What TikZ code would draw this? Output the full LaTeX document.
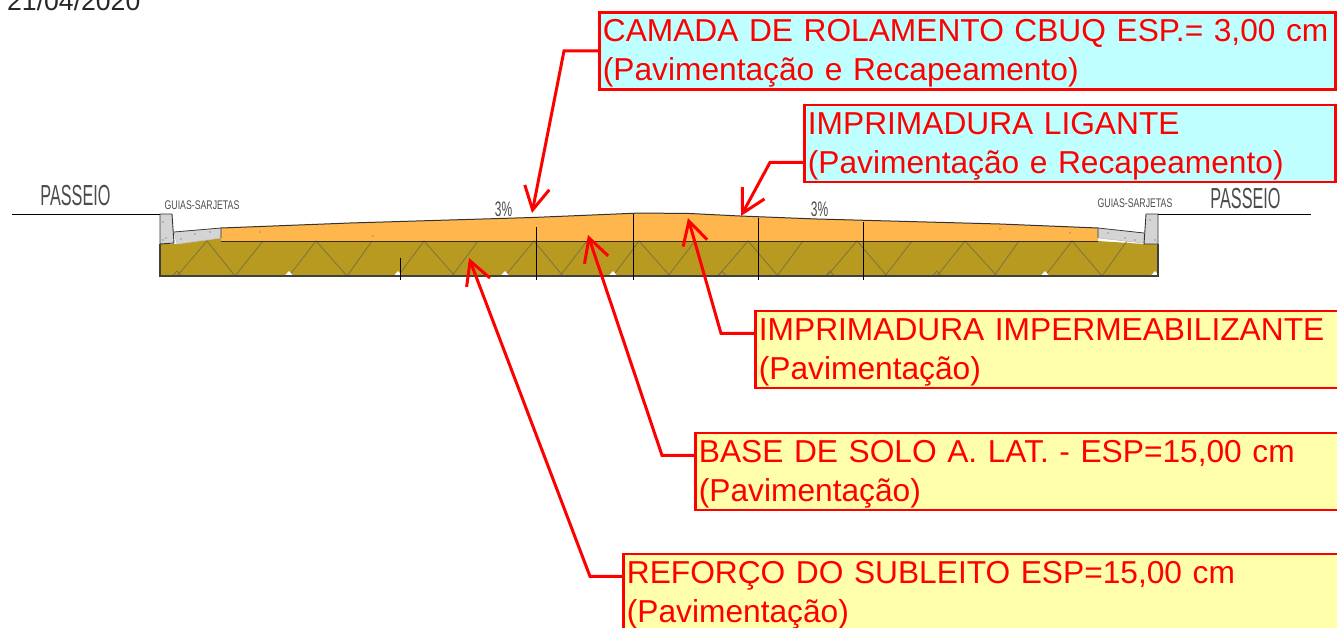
\documentclass[tikz,border=0pt]{standalone}
\usepackage{fontspec}
\setmainfont{Liberation Sans}
\usetikzlibrary{calc,arrows.meta}
\definecolor{azul}{HTML}{BFFFFF}
\definecolor{amarelo}{HTML}{FFFFAA}
\definecolor{laranja}{HTML}{FFB74D}
\definecolor{solo}{HTML}{B89A20}
\definecolor{trama}{HTML}{7A7440}
\definecolor{concreto}{HTML}{D4D4D4}
\tikzset{
	caixa/.style={rectangle,draw=red,line width=2.8pt,anchor=north west,inner xsep=3.5pt,inner ysep=0pt,text=red,text width=#1,align=left,minimum height=77pt,font=\fontsize{31.7}{38.7}\selectfont,execute at begin node={\rule{0pt}{27.5pt}}},
	azulbox/.style={caixa=#1,fill=azul},
	amarelobox/.style={caixa=729pt,fill=amarelo},
	seta/.style={draw=red,line width=3pt,-{Straight Barb[length=23pt,width=25pt]}},
	cad/.style={text=black!70,inner sep=0pt,font=\fontsize{#1}{#1}\selectfont},
	trama fina/.style={draw=trama,line width=.8pt},
	corte/.style={draw=black,line width=.9pt}
}
\begin{document}
\begin{tikzpicture}[x=1pt,y=-1pt]
	\path[use as bounding box,clip] (0,0) rectangle (1337,627);
	% camadas
	\fill[solo] (160,244)--(177,244)--(221,238)--(221,241)--(1098,241)--(1144,244)--(1158,244)--(1158,276)--(160,276)--cycle;
	\fill[laranja] (221,228)--(350,223)--(532,217.5)--(640,213)--(690,213.5)--(740,216)--(817,219)--(1000,224)--(1098,228)--(1098,241)--(221,241)--cycle;
	\draw[black!80,line width=1pt] (221,228)--(350,223)--(532,217.5)--(640,213)--(690,213.5)--(740,216)--(817,219)--(1000,224)--(1098,228);
	% trama da base
	\foreach \xa/\xb/\xc in {177/207/235,289/316/347,398/424/455,505/534/563,613/639/670,718/748/778,827/857/887,937/965/997,1045/1072/1102}
		\draw[trama fina] (\xa,276)--(\xb,241)--(\xc,276);
	\foreach \xa/\xb in {235/263,347/372,452/478,560/587,668/695,777/803,885/912,994/1019,1102/1127}
		\draw[trama fina] (\xa,276)--(\xb,241);
	\foreach \xa in {289,398,505,613,1045,1155}
		\fill[white] (\xa-4,275.5)--(\xa,271)--(\xa+4,275.5)--cycle;
	\foreach \xa in {177,722,830,937}
		\draw[trama fina] (\xa-4,275.5)--(\xa,271)--(\xa+4,275.5);
	\draw[black!70!solo,line width=1pt] (221,241)--(1098,241);
	\draw[black!75,line width=1.2pt] (160,244)--(160,276)--(1158,276)--(1158,244);
	\foreach \xa/\ya in {400/258,536/227,633/214,758/218,863/222}
		\draw[corte] (\xa,\ya)--(\xa,280);
	% guias e sarjetas
	\draw[concreto!90!black,fill=concreto,line width=.6pt] (174,232)--(221,228)--(221,238)--(177,244)--cycle;
	\draw[concreto!90!black,fill=concreto,line width=.6pt] (1098,228)--(1144,233)--(1144,243)--(1098,238)--cycle;
	\draw[black!80,line width=.9pt,fill=concreto] (160,214)--(172,214)--(174,243)--(160,244)--cycle;
	\draw[black!80,line width=.9pt,fill=concreto] (1146,214)--(1158,214)--(1158,244)--(1144,244)--cycle;
	\draw[black!80,line width=.7pt] (174,232)--(221,228)--(221,238);
	\draw[black!80,line width=.7pt] (1098,238)--(1098,228)--(1144,233);
	\foreach \xa/\ya in {163/222,166/238,163/240,181/239,195/234,210/232,1150/220,1155/240,1108/233,1125/238,1135/240,260/232,373/236,1000/229,1070/233}
		\fill[black!70] (\xa,\ya) circle (.6pt);
	% passeio
	\draw[black,line width=1pt] (12,214)--(160,214);
	\draw[black,line width=1pt] (1158,214)--(1311,214);
	\node (passeioE)[cad=29,xscale=.56] at (75.5,196) {PASSEIO};
	\node (passeioD)[cad=29,xscale=.56] at (1245.5,199) {PASSEIO};
	\node (guiasE)[cad=12.5,xscale=.7] at (202,205) {GUIAS-SARJETAS};
	\node (guiasD)[cad=12.5,xscale=.7] at (1135,203) {GUIAS-SARJETAS};
	\node (incE)[cad=21,xscale=.57] at (503.5,209) {3\%};
	\node (incD)[cad=21,xscale=.57] at (819.5,209) {3\%};
	\node (data)[anchor=base west,inner sep=0pt,text=black!85,font=\fontsize{26.6}{26.6}\selectfont] at (7,10) {21/04/2020};
	% caixas
	\node (rolamento)[azulbox=729pt] at (598,11) {CAMADA DE ROLAMENTO CBUQ ESP.= 3,00 cm\\(Pavimentação e Recapeamento)};
	\node (ligante)[azulbox=524pt] at (803,103.5) {IMPRIMADURA LIGANTE\\(Pavimentação e Recapeamento)};
	\node (imperm)[amarelobox] at (754,309.5) {IMPRIMADURA IMPERMEABILIZANTE\\(Pavimentação)};
	\node (base)[amarelobox] at (694,431.5) {BASE DE SOLO A. LAT. - ESP=15,00 cm\\(Pavimentação)};
	\node (reforco)[amarelobox] at (622,552.5) {REFORÇO DO SUBLEITO ESP=15,00 cm\\(Pavimentação)};
	% setas
	\coordinate (pontaA) at (532,213);
	\coordinate (pontaB) at (741,216);
	\coordinate (pontaC) at (688,218);
	\coordinate (pontaD) at (588,235);
	\coordinate (pontaE) at (469,258);
	\draw[seta] (rolamento.west) -- ++(-34,0) -- (pontaA);
	\draw[seta] ([yshift=-19pt]ligante.west) -- ++(-33,0) -- (pontaB);
	\draw[seta] ([yshift=16pt]imperm.west) -- ++(-33,0) -- (pontaC);
	\draw[seta] ([yshift=16pt]base.west) -- ++(-32,0) -- (pontaD);
	\draw[seta] ([yshift=16pt]reforco.west) -- ++(-32,0) -- (pontaE);
\end{tikzpicture}
\end{document}
